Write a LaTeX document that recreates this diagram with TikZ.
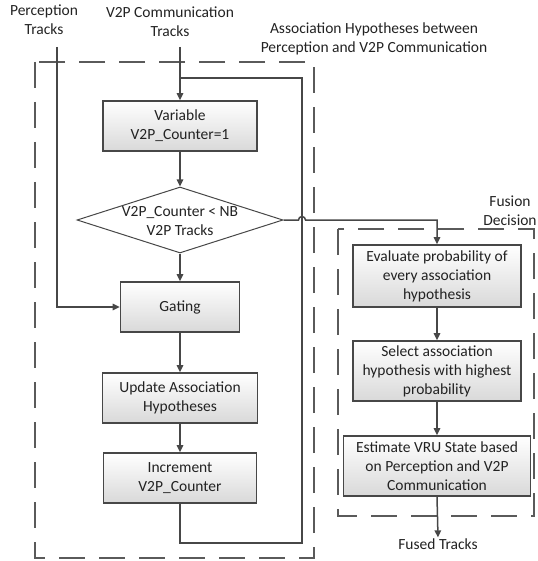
\documentclass[tikz,border=0pt]{standalone}
\usepackage{fontspec}
\setmainfont{Carlito}
\usetikzlibrary{arrows.meta,shapes.geometric}
\definecolor{ln}{HTML}{474747}
\definecolor{dl}{HTML}{5A5A5A}
\definecolor{tx}{HTML}{222222}
\begin{document}
\begin{tikzpicture}[x=1pt,y=-1pt,
  every node/.style={text=tx,font=\fontsize{15.5}{19}\selectfont,align=center,inner sep=0pt},
  box/.style={draw=ln,line width=1.6pt,top color=white,bottom color=black!15,inner sep=0pt},
  conn/.style={draw=ln,line width=1.5pt},
  arr/.style={conn,-{Triangle[length=7pt,width=6.5pt]}},
  dbox/.style={draw=dl,line width=1.8pt,dash pattern=on 26pt off 14pt}]
\useasboundingbox (0,0) rectangle (537,561);
% dashed groups
\draw[dbox] (35,62) rectangle (314,558);
\draw[dbox] (338,229) rectangle (534,516);
% labels
\node (perc) at (44,20) {Perception\\Tracks};
\node (v2p) at (170,21.5) {V2P Communication\\Tracks};
\node (assoc) at (374,39) {Association Hypotheses between\\Perception and V2P Communication};
\node (fusion) at (510,210.5) {Fusion\\Decision};
% left column
\node[box,minimum width=154pt,minimum height=50pt] (var) at (180,126) {Variable\\V2P\_Counter=1};
\node[diamond,draw=ln,line width=1pt,fill=white,minimum width=206pt,minimum height=66pt,inner sep=0pt] (dia) at (180,220) {};
\node (diatext) at (180,221) {V2P\_Counter < NB\\V2P Tracks};
\node[box,minimum width=119pt,minimum height=50pt] (gate) at (180,307) {Gating};
\node[box,minimum width=155pt,minimum height=50pt] (upd) at (180,398) {Update Association\\Hypotheses};
\node[box,minimum width=153pt,minimum height=50pt] (inc) at (180,478) {Increment\\V2P\_Counter};
% right column
\node[box,minimum width=168pt,minimum height=62pt] (eval) at (437,276) {Evaluate probability of\\every association\\hypothesis};
\node[box,minimum width=168pt,minimum height=60pt] (sel) at (437,371) {Select association\\hypothesis with highest\\probability};
\node[box,minimum width=187pt,minimum height=60pt] (est) at (437,466) {Estimate VRU State based\\on Perception and V2P\\Communication};
\node[inner sep=1pt] (fused) at (438,544) {Fused Tracks};
% coordinates
\coordinate (pstart) at (57,47);
\coordinate (vstart) at (180,47);
\coordinate (ltop) at (180,78);
\coordinate (lbot) at (180,543);
\coordinate (rbot) at (302,543);
\coordinate (rtop) at (302,78);
\coordinate (hopa) at (298.5,220);
\coordinate (turn) at (437,220);
% connectors
\draw[arr] (pstart) |- (gate.west);
\draw[arr] (vstart) -- (var.north);
\draw[conn] (inc.south) -- (lbot) -- (rbot) -- (rtop) -- (ltop);
\draw[arr] (var.south) -- (dia.north);
\draw[arr] (dia.south) -- (gate.north);
\draw[arr] (gate.south) -- (upd.north);
\draw[arr] (upd.south) -- (inc.north);
\draw[arr] (dia.east) -- (hopa) arc[start angle=180,end angle=360,radius=3.5] -- (turn) -- (eval.north);
\draw[arr] (eval.south) -- (sel.north);
\draw[arr] (sel.south) -- (est.north);
\draw[arr] (est.south) -- (fused.north);
\end{tikzpicture}
\end{document}
